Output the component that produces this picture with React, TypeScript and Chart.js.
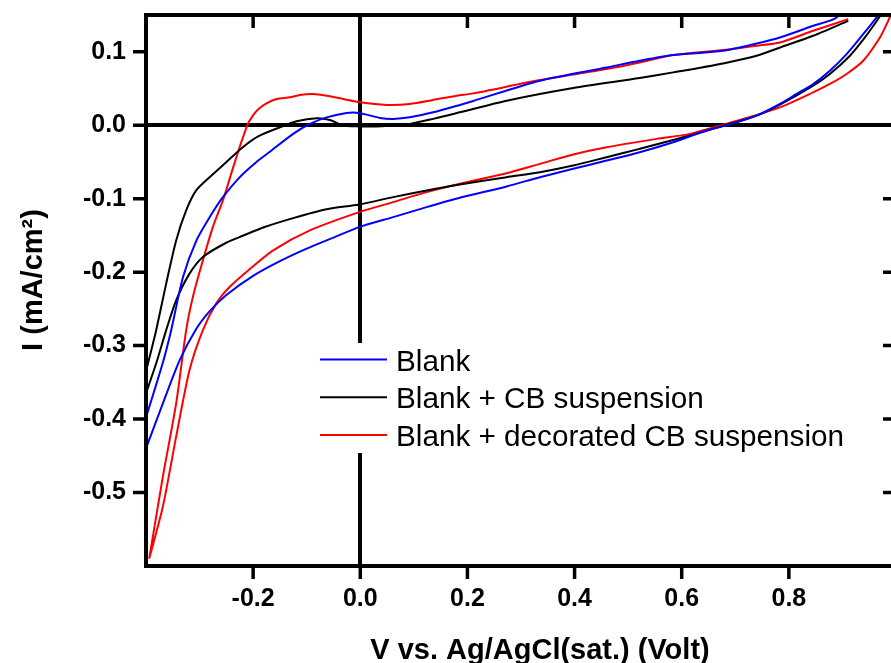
import { useEffect, useRef } from 'react';
import { Chart, registerables } from 'chart.js';

Chart.register(...registerables);

const FONT = "'Liberation Sans', Arial, Helvetica, sans-serif";

const seriesLabels = ['Blank', 'Blank + CB suspension', 'Blank + decorated CB suspension'];
const seriesColors = ['#0000ff', '#000000', '#ff0000'];

const xTickLabels = [-0.2, 0, 0.2, 0.4, 0.6, 0.8];
const yTickLabels = [0.1, 0, -0.1, -0.2, -0.3, -0.4, -0.5];

const xTitle = 'V vs. Ag/AgCl(sat.) (Volt)';
const yTitle = 'I (mA/cm\u00B2)';

// Blank (blue): anodic branch, gap, cathodic branch
const blankV = [
  -0.4, -0.3685, -0.353, -0.331, -0.306, -0.281, -0.2565, -0.2253, -0.1943, -0.165,
  -0.1253, -0.0941, -0.0629, -0.0256, -0.0069, 0.0118, 0.0366, 0.0614, 0.0926, 0.1361,
  0.1859, 0.2108, 0.3353, 0.4598, 0.5215, 0.5841, 0.6774, 0.7398, 0.7834, 0.8454,
  0.8891, 0.905,
  0.95,
  0.985, 0.9638, 0.9388, 0.9078, 0.8766, 0.8454, 0.8144, 0.7834, 0.7398, 0.6891,
  0.6464, 0.5841, 0.5215, 0.4598, 0.3974, 0.3353, 0.2731, 0.1859, 0.1238, 0.0614,
  -0.002, -0.05, -0.1, -0.15, -0.2, -0.25, -0.281, -0.306, -0.3373, -0.3685, -0.4,
];
const blankI = [
  -0.398, -0.323, -0.279, -0.207, -0.157, -0.125, -0.098, -0.071, -0.0504, -0.034,
  -0.0118, 0.0018, 0.0107, 0.0167, 0.0171, 0.0144, 0.0099, 0.0086, 0.0107, 0.0175,
  0.0276, 0.033, 0.0606, 0.0786, 0.0877, 0.0955, 0.1013, 0.1112, 0.1194, 0.1353,
  0.1466, 0.17,
  null,
  0.166, 0.1466, 0.124, 0.0968, 0.0742, 0.0561, 0.0425, 0.0289, 0.013, 0.0008,
  -0.0073, -0.0232, -0.0368, -0.0481, -0.0594, -0.0708, -0.0834, -0.0988, -0.1115, -0.1251,
  -0.1387, -0.153, -0.168, -0.185, -0.205, -0.231, -0.253, -0.277, -0.32, -0.3786, -0.44,
];

// Blank + CB suspension (black)
const cbV = [
  -0.4, -0.381, -0.3623, -0.3437, -0.325, -0.3063, -0.2813, -0.2503, -0.2192, -0.19,
  -0.1501, -0.1189, -0.0816, -0.0568, -0.0349, -0.01, 0.04, 0.0926, 0.1361, 0.1859,
  0.2731, 0.3974, 0.5215, 0.5841, 0.6774, 0.7398, 0.7834, 0.8454, 0.9108,
  0.95,
  0.988, 0.9686, 0.942, 0.914, 0.8766, 0.8454, 0.7834, 0.7398, 0.6891, 0.6153,
  0.5215, 0.4598, 0.3974, 0.3353, 0.2731, 0.1859, 0.1238, 0.0614, -0.002, -0.0629,
  -0.1253, -0.18, -0.2192, -0.2503, -0.2938, -0.3187, -0.3437, -0.3623, -0.38, -0.4,
];
const cbI = [
  -0.335, -0.279, -0.2156, -0.1568, -0.116, -0.0888, -0.0708, -0.0504, -0.03, -0.015,
  -0.0029, 0.0053, 0.0094, 0.0072, 0.0004, -0.0015, -0.0015, 0.0018, 0.0086, 0.0175,
  0.0334, 0.0507, 0.0643, 0.0719, 0.0841, 0.0945, 0.1058, 0.1217, 0.1421,
  null,
  0.166, 0.1466, 0.1194, 0.0945, 0.0697, 0.0538, 0.028, 0.013, 0.0018, -0.0141,
  -0.0322, -0.0436, -0.0549, -0.064, -0.0708, -0.0807, -0.0888, -0.0979, -0.1079, -0.1145,
  -0.1265, -0.139, -0.1505, -0.16, -0.1794, -0.202, -0.2383, -0.279, -0.322, -0.365,
];

// Blank + decorated CB suspension (red)
const decoV = [
  -0.394, -0.3685, -0.3437, -0.325, -0.3125, -0.2938, -0.2752, -0.2565, -0.241, -0.2253,
  -0.2098, -0.2005, -0.19, -0.176, -0.1562, -0.1314, -0.1127, -0.0879, -0.0629, -0.0319,
  -0.0007, 0.0491, 0.0926, 0.1361, 0.1798, 0.2108, 0.3353, 0.4598, 0.5215, 0.5841,
  0.6774, 0.7398, 0.7834, 0.8454, 0.9108,
  0.95,
  1.0, 0.9854, 0.97, 0.9388, 0.9078, 0.8766, 0.8454, 0.7834, 0.7087, 0.6774,
  0.6153, 0.5531, 0.4598, 0.3974, 0.3353, 0.2731, 0.1859, 0.1238, 0.0614, -0.002,
  -0.0941, -0.1626, -0.2066, -0.244, -0.269, -0.2938, -0.3187, -0.3437, -0.3685, -0.394,
];
const decoI = [
  -0.59, -0.4783, -0.3786, -0.279, -0.2338, -0.1839, -0.1387, -0.1024, -0.0662, -0.03,
  0.0018, 0.013, 0.022, 0.0295, 0.0357, 0.0379, 0.0412, 0.0425, 0.0402, 0.0357,
  0.0311, 0.0276, 0.0289, 0.0344, 0.0402, 0.0433, 0.0615, 0.0765, 0.0854, 0.0955,
  0.1023, 0.1081, 0.1126, 0.1285, 0.1444,
  null,
  0.166, 0.1421, 0.1194, 0.0877, 0.0697, 0.0561, 0.0447, 0.0243, 0.0072, 0.0008,
  -0.0118, -0.0186, -0.03, -0.0399, -0.0526, -0.0653, -0.0797, -0.0911, -0.1047, -0.1183,
  -0.1432, -0.1703, -0.196, -0.2202, -0.2427, -0.279, -0.3333, -0.4239, -0.519, -0.59,
];

const seriesV = [blankV, cbV, decoV];
const seriesI = [blankI, cbI, decoI];

const near = (a: number, b: number) => Math.abs(a - b) < 1e-6;

const tickPlugin = {
  id: 'axisTicks',
  afterDraw(chart: any) {
    const { ctx, chartArea: a } = chart;
    const xs = chart.scales.x;
    const ys = chart.scales.y;
    ctx.save();
    ctx.strokeStyle = '#000';
    xs.ticks.forEach((t: any) => {
      if (near(t.value, xs.min) || near(t.value, xs.max)) return;
      const major = t.label != null;
      const L = major ? 13 : 8;
      const p = xs.getPixelForValue(t.value);
      ctx.lineWidth = major ? 3.5 : 3;
      ctx.beginPath();
      ctx.moveTo(p, a.bottom);
      ctx.lineTo(p, a.bottom + L);
      ctx.moveTo(p, a.top);
      ctx.lineTo(p, a.top + L);
      ctx.stroke();
    });
    ys.ticks.forEach((t: any) => {
      if (near(t.value, ys.min) || near(t.value, ys.max)) return;
      const major = t.label != null;
      const L = major ? 13 : 8;
      const p = ys.getPixelForValue(t.value);
      ctx.lineWidth = major ? 3.5 : 3;
      ctx.beginPath();
      ctx.moveTo(a.left, p);
      ctx.lineTo(a.left - L, p);
      ctx.moveTo(a.right, p);
      ctx.lineTo(a.right - L, p);
      ctx.stroke();
    });
    // axis titles
    ctx.fillStyle = '#000';
    ctx.font = `bold 29px ${FONT}`;
    ctx.textAlign = 'center';
    ctx.textBaseline = 'alphabetic';
    ctx.fillText(xTitle, 540, 659);
    ctx.translate(42, 280);
    ctx.rotate(-Math.PI / 2);
    ctx.fillText(yTitle, 0, 0);
    ctx.restore();
  },
};

const legendPlugin = {
  id: 'insetLegend',
  afterDatasetsDraw(chart: any) {
    const { ctx } = chart;
    ctx.save();
    ctx.fillStyle = '#ffffff';
    ctx.fillRect(308, 343, 550, 110);
    chart.data.datasets.forEach((ds: any, i: number) => {
      const y = 359.5 + i * 37.8;
      ctx.strokeStyle = ds.borderColor;
      ctx.lineWidth = 2;
      ctx.beginPath();
      ctx.moveTo(320, y);
      ctx.lineTo(387, y);
      ctx.stroke();
      ctx.fillStyle = '#000';
      ctx.font = `29.7px ${FONT}`;
      ctx.textAlign = 'left';
      ctx.textBaseline = 'alphabetic';
      ctx.fillText(ds.label, 396, y + 11);
    });
    ctx.restore();
  },
};

export default function App() {
  const ref = useRef<HTMLCanvasElement | null>(null);

  useEffect(() => {
    if (!ref.current) return;
    const datasets = seriesLabels.map((label, k) => ({
      label,
      data: seriesV[k].map((v, i) => ({ x: v, y: seriesI[k][i] })),
      borderColor: seriesColors[k],
      backgroundColor: seriesColors[k],
      borderWidth: 2,
      pointRadius: 0,
      pointHoverRadius: 0,
      tension: 0.25,
      fill: false,
      spanGaps: false,
    }));

    const isZero = (ctx: any) => ctx.tick && Math.abs(ctx.tick.value) < 1e-9;

    const chart = new Chart(ref.current, {
      type: 'line',
      data: { datasets: datasets as any },
      options: {
        animation: false,
        responsive: false,
        events: [],
        layout: { padding: { top: 14, left: 0, right: 0, bottom: 0 } },
        plugins: {
          legend: { display: false },
          tooltip: { enabled: false },
          title: { display: false },
        },
        scales: {
          x: {
            type: 'linear',
            position: 'bottom',
            min: -0.4,
            max: 1.0,
            afterFit: (s: any) => { s.height = 97; },
            ticks: {
              stepSize: 0.1,
              maxTicksLimit: 100,
              autoSkip: false,
              maxRotation: 0,
              minRotation: 0,
              padding: 0,
              color: '#000',
              font: { family: FONT, size: 25, weight: 'bold' },
              callback: (v: any) => {
                const n = Number(v);
                const hit = xTickLabels.find((t) => near(t, n));
                return hit === undefined ? null : hit.toFixed(1);
              },
            },
            grid: {
              drawOnChartArea: true,
              drawTicks: true,
              tickLength: 18,
              tickWidth: 0,
              tickColor: 'rgba(0,0,0,0)',
              color: (c: any) => (isZero(c) ? '#000' : 'rgba(0,0,0,0)'),
              lineWidth: (c: any) => (isZero(c) ? 4 : 0),
            },
            border: { display: true, width: 4, color: '#000', z: 1 },
          },
          x2: {
            type: 'linear',
            position: 'top',
            min: -0.4,
            max: 1.0,
            afterFit: (s: any) => { s.height = 0; },
            ticks: { display: false, padding: 0 },
            grid: { drawOnChartArea: false, drawTicks: false },
            border: { display: true, width: 4, color: '#000', z: 1 },
          },
          y: {
            type: 'linear',
            position: 'left',
            min: -0.6,
            max: 0.15,
            afterFit: (s: any) => { s.width = 146; },
            ticks: {
              stepSize: 0.05,
              maxTicksLimit: 100,
              autoSkip: false,
              padding: 0,
              color: '#000',
              font: { family: FONT, size: 25, weight: 'bold' },
              callback: (v: any) => {
                const n = Number(v);
                const hit = yTickLabels.find((t) => near(t, n));
                if (hit === undefined) return null;
                return Math.abs(hit) < 1e-9 ? '0.0' : hit.toFixed(1);
              },
            },
            grid: {
              drawOnChartArea: true,
              drawTicks: true,
              tickLength: 20,
              tickWidth: 0,
              tickColor: 'rgba(0,0,0,0)',
              color: (c: any) => (isZero(c) ? '#000' : 'rgba(0,0,0,0)'),
              lineWidth: (c: any) => (isZero(c) ? 4 : 0),
            },
            border: { display: true, width: 4, color: '#000', z: 1 },
          },
          y2: {
            type: 'linear',
            position: 'right',
            min: -0.6,
            max: 0.15,
            afterFit: (s: any) => { s.width = 4; },
            ticks: { display: false, padding: 0 },
            grid: { drawOnChartArea: false, drawTicks: false },
            border: { display: true, width: 4, color: '#000', z: 1 },
          },
        },
      } as any,
      plugins: [legendPlugin, tickPlugin],
    });

    return () => chart.destroy();
  }, []);

  return (
    <div
      style={{
        position: 'fixed',
        left: 0,
        top: 0,
        width: 891,
        height: 663,
        overflow: 'hidden',
        background: '#fff',
      }}
    >
      <canvas ref={ref} width={900} height={663} style={{ display: 'block' }} />
    </div>
  );
}
